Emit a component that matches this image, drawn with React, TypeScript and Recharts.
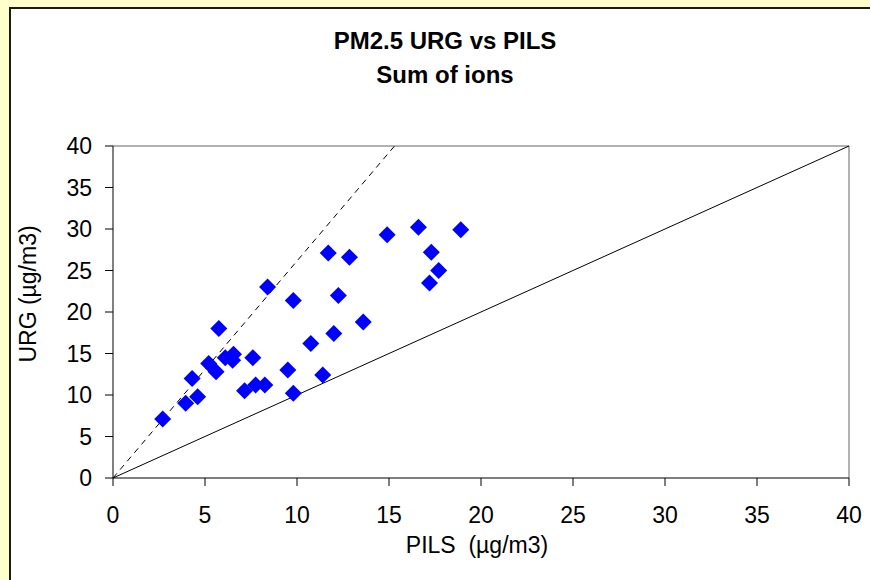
import React from "react";
import {
  ScatterChart,
  Scatter,
  XAxis,
  YAxis,
  ReferenceLine,
} from "recharts";

const pilsValues = [
  2.7, 3.95, 4.6, 4.3, 5.2, 5.6, 5.75, 6.1, 6.55, 6.5, 7.15, 7.6, 7.75, 8.25,
  8.4, 9.5, 9.8, 9.8, 10.75, 11.4, 11.7, 12.0, 12.25, 12.85, 13.6, 14.9, 16.6,
  17.3, 17.7, 17.2, 18.9,
];
const urgValues = [
  7.1, 9.0, 9.8, 12.0, 13.8, 12.8, 18.0, 14.5, 14.9, 14.2, 10.5, 14.5, 11.2,
  11.2, 23.0, 13.0, 10.2, 21.4, 16.2, 12.4, 27.1, 17.4, 22.0, 26.6, 18.8, 29.3,
  30.2, 27.2, 25.0, 23.5, 29.9,
];
const axisTicks = [0, 5, 10, 15, 20, 25, 30, 35, 40];
const oneToOne = [
  { x: 0, y: 0 },
  { x: 40, y: 40 },
];
const steepLine = [
  { x: 0, y: 0 },
  { x: 15.3, y: 40 },
];

const points = pilsValues.map((x, i) => ({ x, y: urgValues[i] }));

const FONT = "'Liberation Sans', Arial, sans-serif";

function Diamond(props: any) {
  const { cx, cy } = props;
  const r = 8.5;
  return (
    <polygon
      points={`${cx},${cy - r} ${cx + r},${cy} ${cx},${cy + r} ${cx - r},${cy}`}
      fill="#0000FF"
    />
  );
}

export default function App() {
  return (
    <div
      style={{
        position: "absolute",
        left: 0,
        top: 0,
        width: 870,
        height: 580,
        background: "#FFFFCC",
        overflow: "hidden",
        fontFamily: FONT,
      }}
    >
      <div
        style={{
          position: "absolute",
          left: 9,
          top: 7,
          width: 900,
          height: 600,
          background: "#FFFFFF",
          border: "2px solid #1a1a1a",
        }}
      />
      <div style={{ position: "absolute", left: 0, top: 0 }}>
        <ScatterChart
          width={870}
          height={580}
          margin={{ top: 146, right: 21, left: 53, bottom: 62 }}
        >
          <XAxis
            type="number"
            dataKey="x"
            domain={[0, 40]}
            ticks={axisTicks}
            allowDataOverflow
            height={40}
            stroke="#000"
            tickSize={8}
            tickMargin={21}
            tick={{ fill: "#000", fontSize: 23, fontFamily: FONT }}
          />
          <YAxis
            type="number"
            dataKey="y"
            domain={[0, 40]}
            ticks={axisTicks}
            allowDataOverflow
            width={60}
            stroke="#000"
            tickSize={8}
            tickMargin={13}
            tick={{ fill: "#000", fontSize: 23, fontFamily: FONT }}
          />
          <ReferenceLine y={40} stroke="#999" strokeWidth={1.5} />
          <ReferenceLine x={40} stroke="#999" strokeWidth={1.5} />
          <ReferenceLine
            segment={oneToOne}
            stroke="#000"
            strokeWidth={1}
            ifOverflow="visible"
          />
          <ReferenceLine
            segment={steepLine}
            stroke="#000"
            strokeWidth={1}
            strokeDasharray="6 5"
            ifOverflow="visible"
          />
          <Scatter
            data={points}
            shape={<Diamond />}
            isAnimationActive={false}
          />
          <text
            x={445}
            y={49}
            textAnchor="middle"
            fontSize={24}
            fontWeight="bold"
            fontFamily={FONT}
            fill="#000"
          >
            PM2.5 URG vs PILS
          </text>
          <text
            x={445}
            y={83}
            textAnchor="middle"
            fontSize={24}
            fontWeight="bold"
            fontFamily={FONT}
            fill="#000"
          >
            Sum of ions
          </text>
          <text
            x={477}
            y={553}
            textAnchor="middle"
            fontSize={23}
            fontFamily={FONT}
            fill="#000"
          >
            {"PILS \u00a0(µg/m3)"}
          </text>
          <text
            x={0}
            y={0}
            transform="translate(36,294) rotate(-90)"
            textAnchor="middle"
            fontSize={23}
            fontFamily={FONT}
            fill="#000"
          >
            URG (µg/m3)
          </text>
        </ScatterChart>
      </div>
    </div>
  );
}
